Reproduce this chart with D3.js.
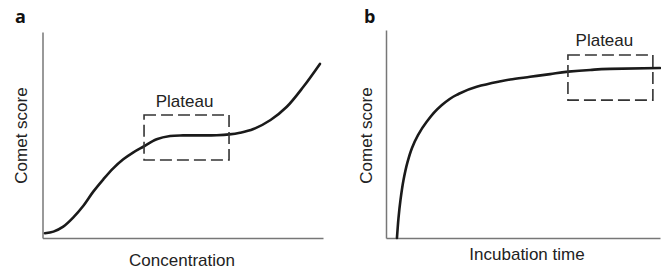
<!DOCTYPE html>
<html><head><meta charset="utf-8">
<script src="https://cdn.jsdelivr.net/npm/d3@7"></script>
<style>
html,body{margin:0;padding:0;background:#fff;}
svg{display:block;}
</style></head>
<body>
<svg id="chart" width="661" height="275"></svg>
<script>
// Panel a data (relative units 0-100)
const concA  = [0.9, 3.9, 7.4, 11.0, 14.5, 18.1, 21.7, 25.2, 28.8, 32.4, 35.9, 40.7, 45.5, 50.1, 56.1, 62.1, 66.6, 70.4, 75.2, 81.3, 87.1, 93.0, 98.9];
const scoreA = [2.3, 3.1, 5.5, 10.0, 15.5, 22.5, 28.5, 33.8, 38.2, 41.6, 44.3, 47.9, 49.5, 49.8, 49.8, 49.9, 50.3, 51.1, 52.9, 57.3, 63.7, 73.4, 84.5];
// Panel b data
const timeB  = [4.0, 4.56, 5.29, 6.39, 7.85, 9.49, 11.68, 14.85, 19.7, 25.8, 33.1, 41.0, 45.3, 52.6, 59.9, 66.5, 74.5, 81.8, 100];
const scoreB = [0, 9.6, 18.3, 27.9, 36.5, 43.3, 49.5, 55.9, 63.1, 68.8, 72.7, 75.1, 76.2, 77.5, 78.8, 80.0, 80.8, 81.3, 81.7];
// Plateau boxes [x0, x1, y0, y1]
const plateauA = [36.2, 66.5, 37.9, 59.7];
const plateauB = [66.4, 97.4, 66.3, 88.0];
const panelLetters = ["a", "b"];
const xTitles = ["Concentration", "Incubation time"];
const yTitle = "Comet score";
const boxLabel = "Plateau";

const svg = d3.select("#chart");
const textColor = "#222";
const font = "'Liberation Sans', Arial, sans-serif";

const panels = [
  {letter: panelLetters[0], xs: concA, ys: scoreA, box: plateauA, xTitle: xTitles[0],
   x: d3.scaleLinear().domain([0,100]).range([42.5, 323]),
   y: d3.scaleLinear().domain([0,100]).range([238, 32]),
   curve: d3.curveCatmullRom.alpha(0.5),
   letterX: 15, yTitleX: 26.5, xTitleX: 182, xTitleY: 266, labelDx: -2},
  {letter: panelLetters[1], xs: timeB, ys: scoreB, box: plateauB, xTitle: xTitles[1],
   x: d3.scaleLinear().domain([0,100]).range([386, 660]),
   y: d3.scaleLinear().domain([0,100]).range([238, 30]),
   curve: d3.curveMonotoneY,
   letterX: 364, yTitleX: 371.5, xTitleX: 527, xTitleY: 260, labelDx: -6}
];

panels.forEach(p => {
  const g = svg.append("g");
  const [x0, x1] = p.x.range();
  const [yb, yt] = p.y.range();
  g.append("g").attr("transform", `translate(0,${yb})`)
    .call(d3.axisBottom(p.x).tickValues([]).tickSizeOuter(0))
    .call(s => s.select(".domain").attr("stroke", "#777").attr("stroke-width", 1.5));
  g.append("g").attr("transform", `translate(${x0},0)`)
    .call(d3.axisLeft(p.y).tickValues([]).tickSizeOuter(0))
    .call(s => s.select(".domain").attr("stroke", "#777").attr("stroke-width", 1.5));

  const pts = p.xs.map((v, i) => [v, p.ys[i]]);
  const line = d3.line().x(d => p.x(d[0])).y(d => p.y(d[1])).curve(p.curve);
  g.append("path").attr("d", line(pts)).attr("fill", "none")
    .attr("stroke", "#1a1a1a").attr("stroke-width", 2.6).attr("stroke-linecap", "round");

  const bx0 = p.x(p.box[0]), bx1 = p.x(p.box[1]), by0 = p.y(p.box[3]), by1 = p.y(p.box[2]);
  g.append("rect").attr("x", bx0).attr("y", by0).attr("width", bx1 - bx0).attr("height", by1 - by0)
    .attr("fill", "none").attr("stroke", "#333").attr("stroke-width", 1.6)
    .attr("stroke-dasharray", "12,5");
  g.append("text").attr("x", (bx0 + bx1) / 2 + p.labelDx).attr("y", by0 - 8.5)
    .attr("text-anchor", "middle").attr("font-family", font).attr("font-size", 17)
    .attr("fill", textColor).text(boxLabel);

  g.append("text").attr("x", p.letterX).attr("y", 23).attr("font-family", "'Open Sans', sans-serif")
    .attr("font-weight", 700).attr("font-size", 18).attr("fill", "#111").text(p.letter);

  g.append("text").attr("x", p.xTitleX).attr("y", p.xTitleY).attr("text-anchor", "middle")
    .attr("font-family", font).attr("font-size", 17).attr("fill", textColor).text(p.xTitle);
  g.append("text").attr("transform", `translate(${p.yTitleX},135.5) rotate(-90)`)
    .attr("text-anchor", "middle").attr("font-family", font).attr("font-size", 17)
    .attr("fill", textColor).text(yTitle);
});
</script>
</body></html>
